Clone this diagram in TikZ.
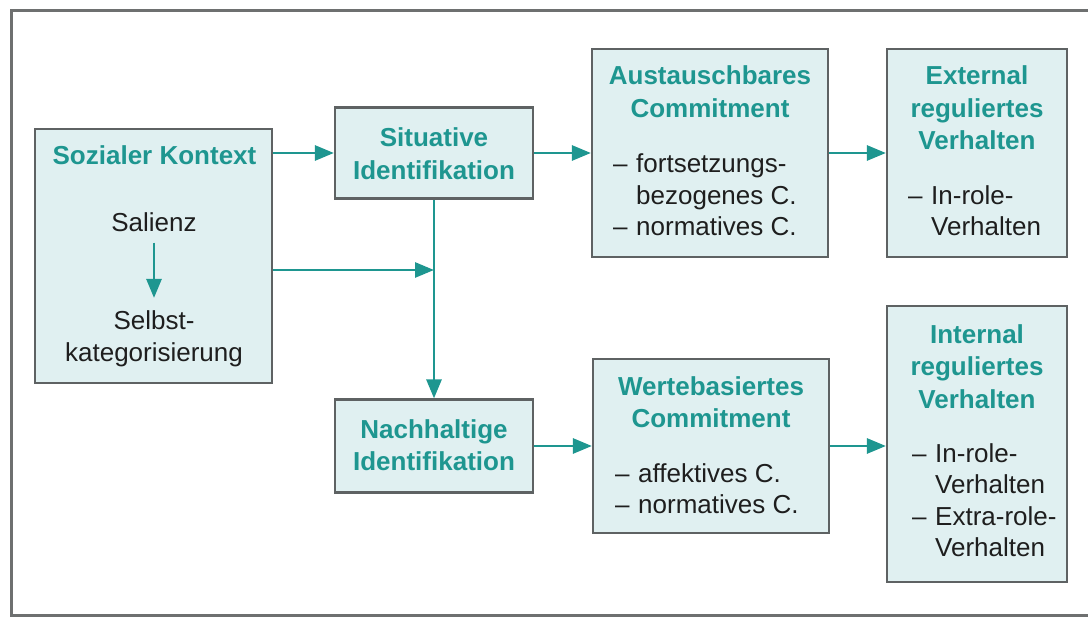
\documentclass[tikz,border=0pt]{standalone}
\usepackage{fontspec}
\setmainfont{Liberation Sans}
\usetikzlibrary{arrows.meta}

\definecolor{tealc}{HTML}{1E9690}
\definecolor{boxfill}{HTML}{E0F0F1}
\definecolor{boxline}{HTML}{5E6263}
\definecolor{framec}{HTML}{6E7070}
\definecolor{bodyc}{HTML}{1E1E1E}

\tikzset{
  box/.style={draw=boxline, fill=boxfill, line width=2.2pt, inner sep=0pt},
  ttl/.style={text=tealc, font=\fontsize{26}{32.5}\selectfont\bfseries, align=center, inner sep=0pt},
  body/.style={text=bodyc, font=\fontsize{26}{31.5}\selectfont, align=center, inner sep=0pt},
  items/.style={text=bodyc, font=\fontsize{26}{31.5}\selectfont, align=left, inner sep=0pt, anchor=base west},
  arr/.style={draw=tealc, line width=2.8pt, -{Triangle[length=19pt,width=15pt]}},
}
\newcommand{\itm}[1]{\makebox[23pt][l]{–}#1}
\newcommand{\cnt}[1]{\hspace*{23pt}#1}

\begin{document}
\begin{tikzpicture}[x=1pt,y=-1pt]
  \useasboundingbox (0,0) rectangle (1088,617);

  % outer frame (open to the right)
  \draw[framec, line width=3pt] (1088,11) -- (11,11) -- (11,615) -- (1088,615);

  % boxes
  \node[box, minimum width=237pt, minimum height=254pt] (soz)  at (153.5,256) {};
  \node[box, minimum width=198pt, minimum height=91pt]  (sit)  at (434,153) {};
  \node[box, minimum width=198pt, minimum height=93pt]  (nach) at (434,446) {};
  \node[box, minimum width=236pt, minimum height=208pt] (aus)  at (710,153) {};
  \node[box, minimum width=236pt, minimum height=174pt] (wert) at (711,446) {};
  \node[box, minimum width=180pt, minimum height=208pt] (ext)  at (977,153) {};
  \node[box, minimum width=180pt, minimum height=276pt] (int)  at (977,444) {};

  % titles
  \node[ttl] (sozT)  at (154.5,155) {Sozialer Kontext};
  \node[ttl] (sitT)  at (434,153.5) {Situative\\Identifikation};
  \node[ttl] (nachT) at (434,445) {Nachhaltige\\Identifikation};
  \node[ttl] (ausT)  at (710,91.5) {Austauschbares\\Commitment};
  \node[ttl] (wertT) at (711,402) {Wertebasiertes\\Commitment};
  \node[ttl] (extT)  at (977,108) {External\\reguliertes\\Verhalten};
  \node[ttl] (intT)  at (977,366.5) {Internal\\reguliertes\\Verhalten};

  % inner content of the context box
  \node[body] (sal)  at (154,222) {Salienz};
  \node[body] (kat)  at (154,339) {Selbst-\\kategorisierung};
  \draw[arr, shorten <=11pt, shorten >=13pt] (sal.south) -- (kat.north);

  % item lists (placed by the baseline of their last line)
  \node[items] (ausL)  at (613,236) {\itm{fortsetzungs-}\\\cnt{bezogenes C.}\\\itm{normatives C.}};
  \node[items] (extL)  at (908,236) {\itm{In-role-}\\\cnt{Verhalten}};
  \node[items] (wertL) at (615,514) {\itm{affektives C.}\\\itm{normatives C.}};
  \node[items] (intL)  at (912,557) {\itm{In-role-}\\\cnt{Verhalten}\\\itm{Extra-role-}\\\cnt{Verhalten}};

  % connectors
  \coordinate (join) at (434,270);
  \draw[arr] (sit.west -| soz.east) -- (sit.west);
  \draw[arr] (sit.east) -- (sit.east -| aus.west);
  \draw[arr] (aus.east) -- (aus.east -| ext.west);
  \draw[arr] (sit.south) -- (nach.north);
  \draw[arr] (join -| soz.east) -- (join);
  \draw[arr] (nach.east) -- (nach.east -| wert.west);
  \draw[arr] (wert.east) -- (wert.east -| int.west);
\end{tikzpicture}
\end{document}
